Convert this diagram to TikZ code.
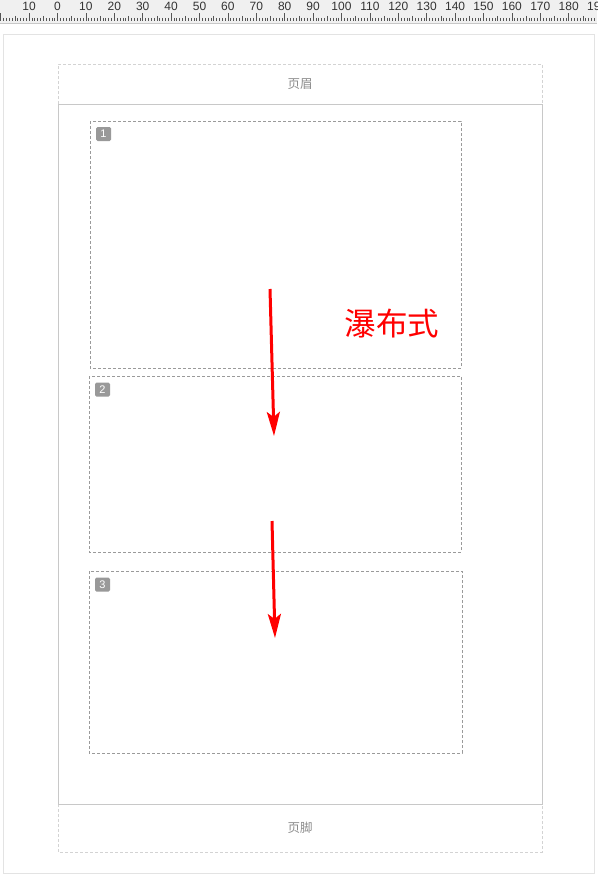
\documentclass[tikz,border=0pt]{standalone}
\usepackage{fontspec}
\setmainfont{Liberation Sans}
\newfontfamily\cjk{Noto Sans CJK SC}
\usetikzlibrary{arrows.meta}
\definecolor{rulerbg}{HTML}{F0F0F0}
\definecolor{rulertxt}{HTML}{333333}
\definecolor{rulertick}{HTML}{555555}
\definecolor{pageln}{HTML}{E3E3E3}
\definecolor{areln}{HTML}{C8C8C8}
\definecolor{dashln}{HTML}{9A9A9A}
\definecolor{hdrtxt}{HTML}{8C8C8C}
\definecolor{badge}{HTML}{999999}
\tikzset{
  dbox/.style={draw=dashln, dash pattern=on 3pt off 2pt, line width=0.8pt},
  hfbox/.style={draw=areln!80, dash pattern=on 3pt off 2pt, line width=0.8pt},
  solidln/.style={draw=areln, line width=1pt},
  hftext/.style={text=hdrtxt, font=\cjk\fontsize{12.5}{14}\selectfont, inner sep=0pt},
  badgebox/.style={fill=badge, rounded corners=1.5pt, minimum width=15pt, minimum height=14pt, inner sep=0pt, text=white, font=\fontsize{11}{12}\selectfont},
  redarrow/.style={draw=red, line width=3pt, -{Stealth[length=24pt,width=13pt,inset=5pt]}},
  rulernum/.style={text=rulertxt, font=\fontsize{12}{14}\selectfont, inner sep=0pt, anchor=base},
  tick/.style={draw=rulertick, line width=0.6pt}
}
\begin{document}
\begin{tikzpicture}[x=1pt,y=-1pt]
\useasboundingbox (0,0) rectangle (597,875);
\fill[white] (0,0) rectangle (597,875);
% ruler
\fill[rulerbg] (0,0) rectangle (597,23);
\draw[areln, line width=0.6pt] (0,23) -- (597,23);
\foreach \i in {-20,...,189}{
  \pgfmathtruncatemacro\m{mod(abs(\i),10)}
  \pgfmathtruncatemacro\f{mod(abs(\i),5)}
  \pgfmathsetmacro\xx{57.5+\i*2.84}
  \ifnum\m=0
    \draw[tick] (\xx,13.5) -- (\xx,21);
  \else\ifnum\f=0
    \draw[tick] (\xx,16) -- (\xx,21);
  \else
    \draw[tick] (\xx,18) -- (\xx,21);
  \fi\fi
}
\foreach \j in {-1,...,19}{
  \pgfmathtruncatemacro\lab{abs(\j*10)}
  \pgfmathsetmacro\xx{57.5+\j*28.4}
  \node[rulernum] (r\j) at (\xx,10.5) {\lab};
}
% page
\draw[pageln, line width=1pt] (3,35) rectangle (594,873);
% header / footer
\draw[hfbox] (58,104) -- (58,64) -- (542,64) -- (542,104);
\draw[hfbox] (58,804) -- (58,852) -- (542,852) -- (542,804);
\node[hftext] (hdr) at (300,84) {页眉};
\node[hftext] (ftr) at (300,828) {页脚};
% content area
\draw[solidln] (58,104) rectangle (542,804);
% blocks
\draw[dbox] (90,121) rectangle (461,368);
\draw[dbox] (89,376) rectangle (461,552);
\draw[dbox] (89,571) rectangle (462,753);
\node[badgebox] (b1) at (103.5,134) {1};
\node[badgebox] (b2) at (102.5,389.5) {2};
\node[badgebox] (b3) at (102.5,584.5) {3};
% label
\node[text=red, font=\cjk\fontsize{31.5}{34}\selectfont, inner sep=0pt] (lbl) at (392,324) {瀑布式};
% arrows
\coordinate (a1s) at (270,289);
\coordinate (a1e) at (274,436);
\coordinate (a2s) at (272,521);
\coordinate (a2e) at (275,638);
\draw[redarrow] (a1s) -- (a1e);
\draw[redarrow] (a2s) -- (a2e);
\end{tikzpicture}
\end{document}
